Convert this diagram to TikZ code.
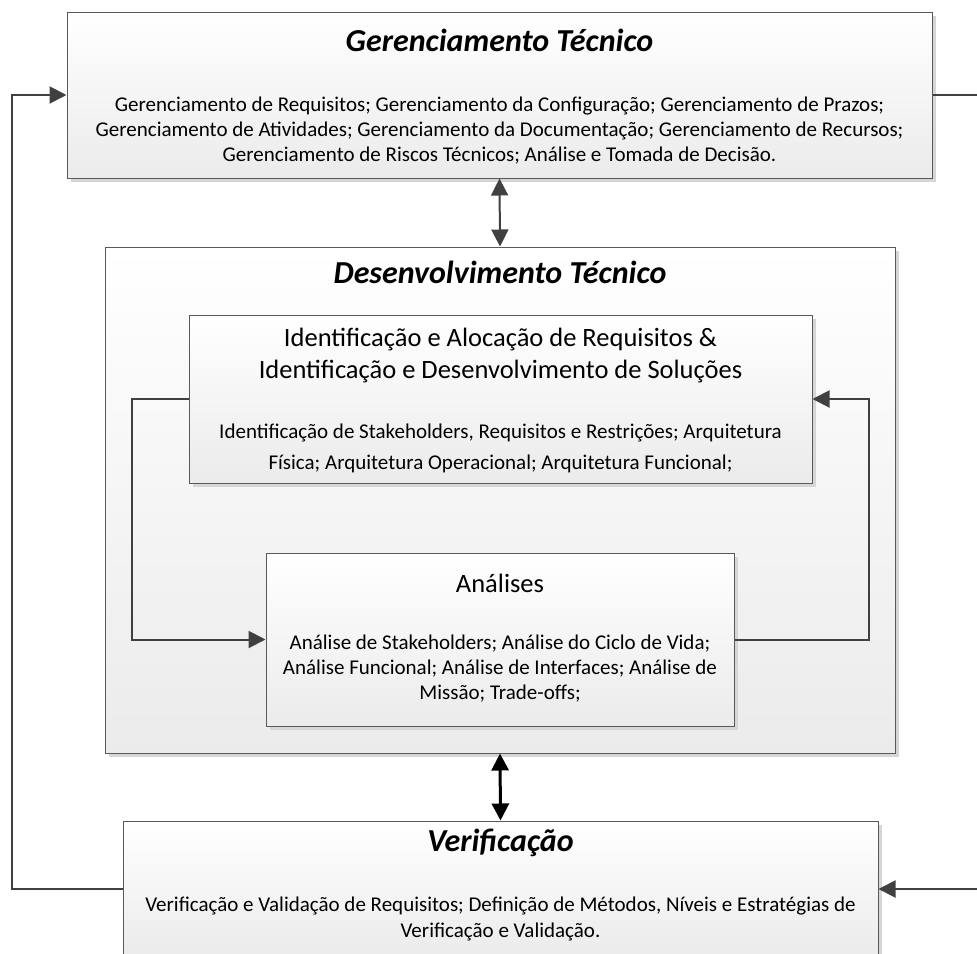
\documentclass[tikz,border=0pt]{standalone}
\usepackage{fontspec}
\setmainfont{Carlito}
\usetikzlibrary{arrows.meta,shadows}
\definecolor{boxline}{HTML}{595959}
\definecolor{connline}{HTML}{404040}
\definecolor{boxbottom}{HTML}{EBEBEB}
\definecolor{shadowgray}{HTML}{D6D6D6}
\begin{document}
\begin{tikzpicture}[x=1pt,y=-1pt,
    box/.style={draw=boxline, line width=1pt, top color=white, bottom color=boxbottom, inner sep=0pt,
        drop shadow={shadow xshift=4pt, shadow yshift=-4pt, fill=shadowgray, opacity=1}},
    titletext/.style={inner sep=0pt, font=\fontsize{32}{38}\selectfont\bfseries\itshape},
    headtext/.style={inner sep=0pt, align=center, font=\fontsize{26.5}{32}\selectfont},
    bodytext/.style={inner sep=0pt, align=center, font=\fontsize{21}{25}\selectfont},
    conn/.style={draw=connline, line width=2pt, -{Triangle[length=17pt,width=17pt]}},
    both/.style={draw=connline, line width=2pt, {Triangle[length=17pt,width=17pt]}-{Triangle[length=17pt,width=17pt]}}]
    \useasboundingbox (0,0) rectangle (977,953);
    \clip (0,0) rectangle (977,953);
    \fill[white] (0,0) rectangle (977,953);

    \node[box, minimum width=865pt, minimum height=166pt] (topbox) at (499.5,95) {};
    \node[titletext] (toptitle) at (499.5,40) {Gerenciamento Técnico};
    \node[bodytext] (topbody) at (499.5,131) {Gerenciamento de Requisitos; Gerenciamento da Configuração; Gerenciamento de Prazos;\\
        Gerenciamento de Atividades; Gerenciamento da Documentação; Gerenciamento de Recursos;\\
        Gerenciamento de Riscos Técnicos; Análise e Tomada de Decisão.};

    \node[box, minimum width=790pt, minimum height=506pt] (desenv) at (500,500) {};
    \node[titletext] (desenvtitle) at (500,272) {Desenvolvimento Técnico};

    \node[box, minimum width=623pt, minimum height=168pt] (idbox) at (500.5,399) {};
    \node[headtext] (idhead) at (500.5,356) {Identificação e Alocação de Requisitos \&\\ Identificação e Desenvolvimento de Soluções};
    \node[bodytext, font=\fontsize{21}{31}\selectfont] (idbody) at (500.5,448) {Identificação de Stakeholders, Requisitos e Restrições; Arquitetura\\ Física; Arquitetura Operacional; Arquitetura Funcional;};

    \node[box, minimum width=468pt, minimum height=173pt] (analises) at (500,639.5) {};
    \node[headtext] (anhead) at (500,583) {Análises};
    \node[bodytext] (anbody) at (500,669) {Análise de Stakeholders; Análise do Ciclo de Vida;\\ Análise Funcional; Análise de Interfaces; Análise de\\ Missão; Trade-offs;};

    \node[box, minimum width=755pt, minimum height=136pt] (verif) at (500.5,889) {};
    \node[titletext] (veriftitle) at (500.5,843) {Verificação};
    \node[bodytext, font=\fontsize{21}{26}\selectfont] (verifbody) at (500.5,919) {Verificação e Validação de Requisitos; Definição de Métodos, Níveis e Estratégias de\\ Verificação e Validação.};

    \coordinate (rightin) at (995,889);

    \draw[both] (topbox.south) -- (desenv.north);
    \draw[both, draw=black, line width=3pt] (desenv.south) -- (verif.north);
    \draw[conn] (idbox.west) -- ++(-57,0) |- (analises.west);
    \draw[conn] (analises.east) -- ++(134,0) |- (idbox.east);
    \draw[conn] (verif.west) -- ++(-111,0) |- (topbox.west);
    \draw[conn, -] (topbox.east) -- ++(70,0);
    \draw[conn] (rightin) -- (verif.east);
\end{tikzpicture}
\end{document}
